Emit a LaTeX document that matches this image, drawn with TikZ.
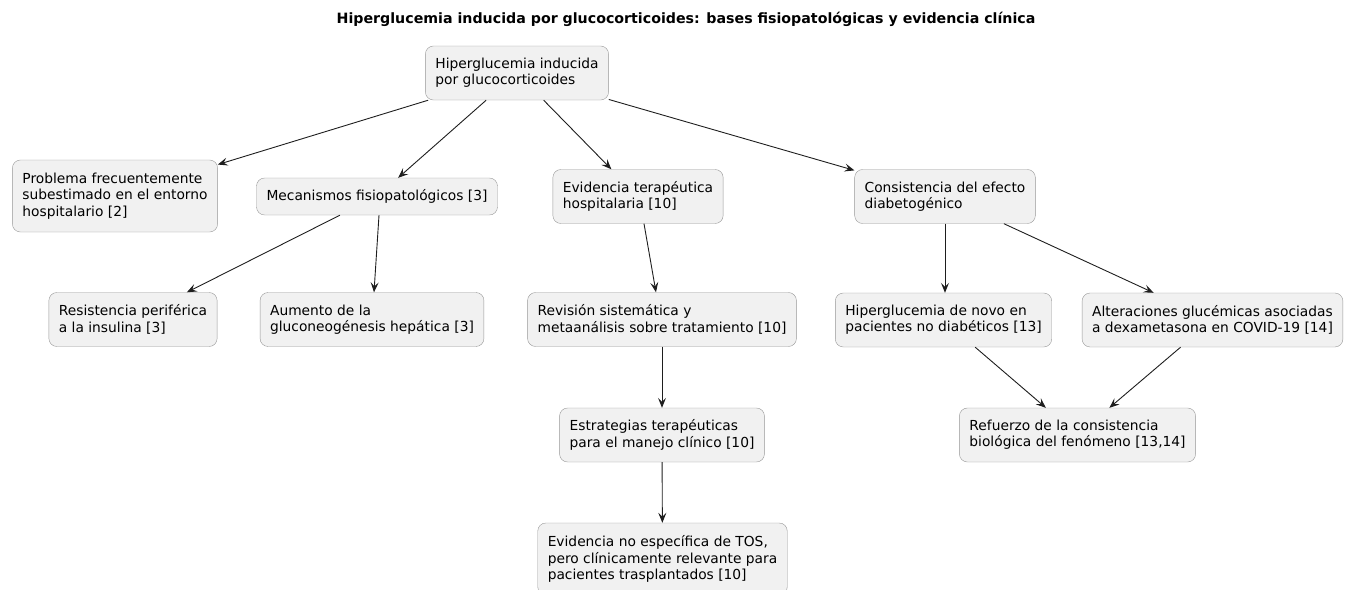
\documentclass[tikz,border=0pt]{standalone}
\usepackage{fontspec}
\setmainfont{DejaVu Sans}
\usetikzlibrary{arrows.meta, positioning}
\usepackage{xcolor}
\definecolor{boxfill}{RGB}{241,241,241}
\definecolor{boxline}{RGB}{150,150,150}
\definecolor{linkcol}{RGB}{30,30,30}

\begin{document}
\begin{tikzpicture}[x=1pt, y=-1pt,
    box/.style={rectangle, rounded corners=8pt, draw=boxline, fill=boxfill, align=left,
        inner xsep=10pt, inner ysep=9pt, font=\fontsize{13.8}{16.3}\selectfont},
    single/.style={box, minimum height=37pt},
    double/.style={box, minimum height=54pt},
    triple/.style={box, minimum height=72pt},
    arrow/.style={-{Stealth[length=10pt, width=8pt, inset=4pt]}, draw=linkcol, line width=0.9pt}
]
\useasboundingbox (0,0) rectangle (1368,589);

% Title
\node[font=\fontsize{14.2}{17}\selectfont\bfseries] (title) at (686,19)
    {Hiperglucemia inducida por glucocorticoides: bases fisiopatológicas y evidencia clínica};

% Root
\node[double] (hgc) at (517,73) {Hiperglucemia inducida\\por glucocorticoides};

% First level
\node[triple] (prob) at (115,196) {Problema frecuentemente\\subestimado en el entorno\\hospitalario [2]};
\node[single] (mec) at (377,196.5) {Mecanismos fisiopatológicos [3]};
\node[double] (evid) at (638,196.5) {Evidencia terapéutica\\hospitalaria [10]};
\node[double] (cons) at (945,196.5) {Consistencia del efecto\\diabetogénico};

% Mechanisms
\node[double] (resis) at (133,319.5) {Resistencia periférica\\a la insulina [3]};
\node[double] (aum) at (372,319.5) {Aumento de la\\gluconeogénesis hepática [3]};

% Therapeutic evidence
\node[double] (rev) at (662,319.5) {Revisión sistemática y\\metaanálisis sobre tratamiento [10]};
\node[double] (estr) at (662,435) {Estrategias terapéuticas\\para el manejo clínico [10]};
\node[triple] (evno) at (662.5,559) {Evidencia no específica de TOS,\\pero clínicamente relevante para\\pacientes trasplantados [10]};

% Diabetogenic effect
\node[double] (hipn) at (943.5,320) {Hiperglucemia de novo en\\pacientes no diabéticos [13]};
\node[double] (alt) at (1212.5,320) {Alteraciones glucémicas asociadas\\a dexametasona en COVID-19 [14]};
\node[double] (refz) at (1077.5,435) {Refuerzo de la consistencia\\biológica del fenómeno [13,14]};

% Arrows
\draw[arrow] (hgc) -- (prob);
\draw[arrow] (hgc) -- (mec);
\draw[arrow] (hgc) -- (evid);
\draw[arrow] (hgc) -- (cons);
\draw[arrow] (mec) -- (resis);
\draw[arrow] ([xshift=2pt]mec.south) -- ([xshift=2pt]aum.north);
\draw[arrow] ([xshift=6pt]evid.south) -- ([xshift=-6pt]rev.north);
\draw[arrow] (rev) -- (estr);
\draw[arrow] (estr) -- (evno);
\draw[arrow] (cons.south) -- (cons.south |- hipn.north);
\draw[arrow] (cons) -- (alt);
\draw[arrow] (hipn) -- (refz);
\draw[arrow] (alt) -- (refz);

\end{tikzpicture}
\end{document}
